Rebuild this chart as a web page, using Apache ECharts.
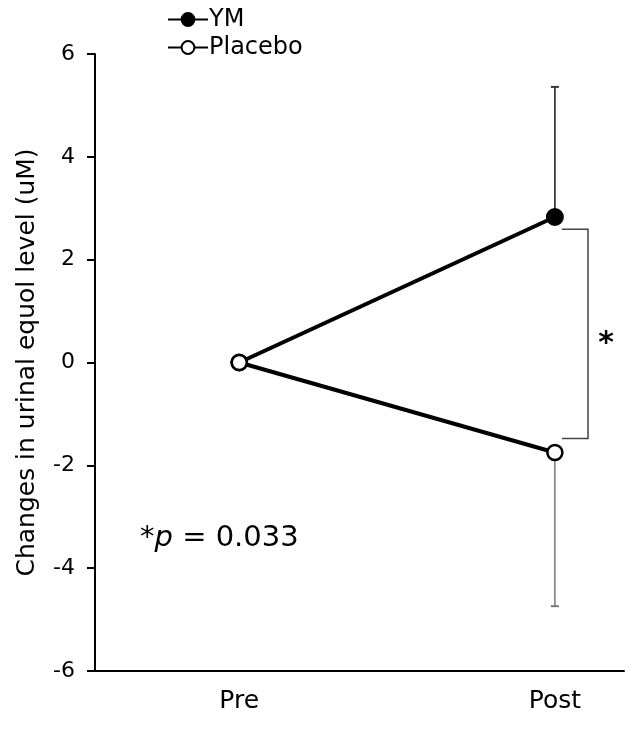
<!DOCTYPE html>
<html>
<head>
<meta charset="utf-8">
<script src="https://cdn.jsdelivr.net/npm/echarts@6/dist/echarts.min.js"></script>
<style>html,body{margin:0;padding:0;background:#fff;}#c{width:633px;height:738px;}</style>
</head>
<body>
<div id="c"></div>
<script>
// ---- data ----
var categories = ['Pre', 'Post'];
var ymValues = [0, 2.83];
var placeboValues = [0, -1.75];
// error bar ends at Post (one-sided)
var ymErrorEnd = 5.36;
var placeboErrorEnd = -4.74;
// significance bracket span (y values)
var bracketRange = [2.59, -1.48];
var yTicks = [-6, -4, -2, 0, 2, 4, 6];
var annotation = 'p = 0.033';

var FONT = '"DejaVu Sans", Verdana, sans-serif';
var chart = echarts.init(document.getElementById('c'), null, {renderer: 'canvas'});

function pairs(vals) { return vals.map(function (v, i) { return [i, v]; }); }

var option = {
  animation: false,
  backgroundColor: '#ffffff',
  grid: {left: 95, right: 9, top: 54, bottom: 67, containLabel: false},
  legend: {
    orient: 'vertical', left: 162, top: 2, itemWidth: 40, itemHeight: 16, itemGap: 3,
    textStyle: {fontFamily: FONT, fontSize: 24, lineHeight: 25, color: '#000', padding: [0, 0, 0, -4]},
    data: ['YM', 'Placebo']
  },
  xAxis: {
    type: 'value', min: -0.457, max: 1.219,
    axisLine: {show: true, onZero: false, lineStyle: {color: '#000', width: 2}},
    axisTick: {show: false},
    splitLine: {show: false},
    axisLabel: {
      customValues: [0, 1], margin: 18,
      fontFamily: FONT, fontSize: 25, color: '#000',
      formatter: function (v) { return categories[Math.round(v)]; }
    }
  },
  yAxis: {
    type: 'value', min: -6, max: 6, interval: 2,
    name: 'Changes in urinal equol level (uM)', nameLocation: 'middle', nameGap: 55, nameRotate: 90,
    nameTextStyle: {fontFamily: FONT, fontSize: 25, color: '#000'},
    axisLine: {show: true, onZero: false, lineStyle: {color: '#000', width: 2}},
    axisTick: {show: true, inside: false, length: 8, lineStyle: {color: '#000', width: 2}},
    splitLine: {show: false},
    axisLabel: {margin: 20, fontFamily: FONT, fontSize: 22, color: '#000',
      formatter: function (v) { return yTicks.indexOf(v) >= 0 ? String(v) : ''; }}
  },
  series: [
    {
      name: 'YM-err', type: 'custom', silent: true, z: 1,
      data: [[1, ymValues[1], ymErrorEnd]],
      renderItem: function (params, api) {
        var a = api.coord([api.value(0), api.value(1)]);
        var b = api.coord([api.value(0), api.value(2)]);
        return {type: 'group', children: [
          {type: 'line', shape: {x1: a[0], y1: a[1], x2: b[0], y2: b[1]}, style: {stroke: '#3a3a3a', lineWidth: 1.8}},
          {type: 'line', shape: {x1: b[0] - 4, y1: b[1], x2: b[0] + 4, y2: b[1]}, style: {stroke: '#3a3a3a', lineWidth: 2}}
        ]};
      }
    },
    {
      name: 'Placebo-err', type: 'custom', silent: true, z: 1,
      data: [[1, placeboValues[1], placeboErrorEnd]],
      renderItem: function (params, api) {
        var a = api.coord([api.value(0), api.value(1)]);
        var b = api.coord([api.value(0), api.value(2)]);
        return {type: 'group', children: [
          {type: 'line', shape: {x1: a[0], y1: a[1], x2: b[0], y2: b[1]}, style: {stroke: '#777', lineWidth: 1.5}},
          {type: 'line', shape: {x1: b[0] - 4, y1: b[1], x2: b[0] + 4, y2: b[1]}, style: {stroke: '#777', lineWidth: 2}}
        ]};
      }
    },
    {
      name: 'bracket', type: 'custom', silent: true, z: 1,
      data: [[1.022, 1.105, bracketRange[0], bracketRange[1]]],
      renderItem: function (params, api) {
        var tl = api.coord([api.value(0), api.value(2)]);
        var tr = api.coord([api.value(1), api.value(2)]);
        var bl = api.coord([api.value(0), api.value(3)]);
        var br = api.coord([api.value(1), api.value(3)]);
        return {type: 'group', children: [
          {type: 'polyline', shape: {points: [tl, tr, br, bl]}, style: {stroke: '#444', lineWidth: 1.5, fill: null}},
          {type: 'text', x: tr[0] + 18, y: (tr[1] + br[1]) / 2 + 10,
            style: {text: '*', font: 'bold 30px ' + FONT, fill: '#000', align: 'center', verticalAlign: 'middle'}}
        ]};
      }
    },
    {
      name: 'YM', type: 'line', data: pairs(ymValues), z: 3,
      symbol: 'circle', symbolSize: 16,
      lineStyle: {color: '#000', width: 4},
      itemStyle: {color: '#000', borderColor: '#000', borderWidth: 2}
    },
    {
      name: 'Placebo', type: 'line', data: pairs(placeboValues), z: 4,
      symbol: 'circle', symbolSize: 15,
      lineStyle: {color: '#000', width: 4},
      itemStyle: {color: '#fff', borderColor: '#000', borderWidth: 2.5}
    }
  ],
  graphic: [{
    type: 'text', left: 140, top: 524,
    style: {
      rich: {
        s: {font: '29px ' + FONT, fill: '#000'},
        i: {font: 'italic 29px ' + FONT, fill: '#000'},
        n: {font: '29px ' + FONT, fill: '#000'}
      },
      text: '{s|*}{i|' + annotation.split(' ')[0] + '}{n| ' + annotation.split(' ').slice(1).join(' ') + '}'
    }
  }]
};
chart.setOption(option);
</script>
</body>
</html>
